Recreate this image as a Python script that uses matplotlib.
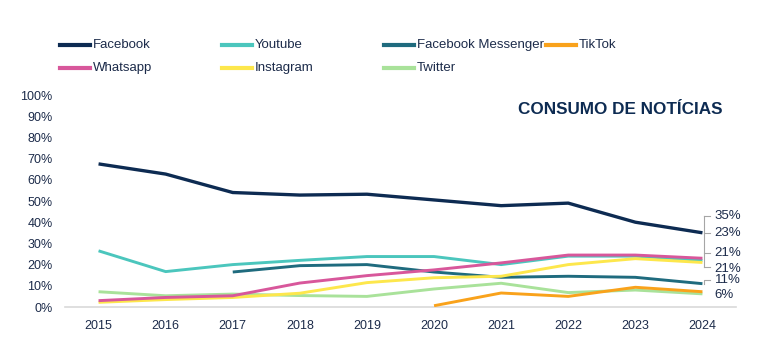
import matplotlib.pyplot as plt
from matplotlib.lines import Line2D

plt.rcParams['font.family'] = ['Liberation Sans', 'DejaVu Sans']

# data (share of news consumption, %)
years = [2015, 2016, 2017, 2018, 2019, 2020, 2021, 2022, 2023, 2024]
facebook = [67.5, 62.7, 54, 52.8, 53.2, 50.5, 47.8, 49, 40, 35]
youtube = [26.5, 16.7, 20, 22, 23.8, 23.8, 20, 24, 24, 22]
messenger = [None, None, 16.5, 19.5, 20, 16.5, 14, 14.5, 14, 11]
whatsapp = [3, 4.5, 5.3, 11.3, 14.8, 17.5, 20.8, 24.5, 24.5, 23]
instagram = [2.2, 3.5, 4.5, 6.5, 11.5, 13.8, 14.5, 20, 22.8, 21]
twitter = [7.2, 5.3, 6.1, 5.4, 5, 8.5, 11.2, 6.8, 8, 6.2]
tiktok = [None, None, None, None, None, 0.6, 6.6, 5, 9.3, 7.2]
end_labels = ['35%', '23%', '21%', '21%', '11%', '6%']

navy = '#0d2b52'
series = [
    ('Facebook', facebook, navy),
    ('Youtube', youtube, '#4bc6bd'),
    ('Facebook Messenger', messenger, '#1f6b7e'),
    ('TikTok', tiktok, '#f9a21b'),
    ('Whatsapp', whatsapp, '#d8579b'),
    ('Instagram', instagram, '#fde74c'),
    ('Twitter', twitter, '#a9e29a'),
]
draw_order = ['Twitter', 'TikTok', 'Facebook Messenger', 'Youtube', 'Instagram', 'Whatsapp', 'Facebook']

fig = plt.figure(figsize=(7.76, 3.52), dpi=100)
ax = fig.add_axes([65 / 776, 1 - 307 / 352, 671 / 776, 212 / 352])

for name in draw_order:
    label, vals, col = [s for s in series if s[0] == name][0]
    xs = [y for y, v in zip(years, vals) if v is not None]
    ys = [v for v in vals if v is not None]
    ax.plot(xs, ys, color=col, lw=2.4 if name == 'Facebook' else 2.1,
            solid_capstyle='butt', zorder=3)

ax.set_xlim(2014.5, 2024.5)
ax.set_ylim(0, 100)
ax.set_xticks(years)
ax.set_yticks(range(0, 101, 10))
ax.set_yticklabels([f'{v}%' for v in range(0, 101, 10)])
ax.tick_params(axis='both', length=0, labelsize=9, labelcolor='#1c2b4a')
ax.tick_params(axis='y', pad=9)
ax.tick_params(axis='x', pad=9.5)
for s in ['top', 'right', 'left']:
    ax.spines[s].set_visible(False)
ax.spines['bottom'].set_color('#d9d9d9')
ax.spines['bottom'].set_linewidth(1.2)

# end value labels with bracket leaders
lab_x = 2024.18
lab_y = [43, 35, 25.6, 18, 12.6, 5.8]
for txt, yv in zip(end_labels, lab_y):
    ax.text(lab_x, yv, txt, fontsize=9.5, color='#1c2b4a', va='center', ha='left',
            clip_on=False)
bx = 2024.03
gray = '#a6a6a6'
ax.plot([bx, bx], [43, 18.8], color=gray, lw=0.8, clip_on=False)
for yv in [43, 35, 25.6, 18.8]:
    ax.plot([bx, bx + 0.08], [yv, yv], color=gray, lw=0.8, clip_on=False)
ax.plot([bx, bx, bx + 0.08], [11, 12.6, 12.6], color=gray, lw=0.8, clip_on=False)

ax.text(0.98, 0.93, 'CONSUMO DE NOTÍCIAS', transform=ax.transAxes, ha='right', va='center',
        fontsize=12.3, fontweight='bold', color=navy)

# legend laid out by hand: 4 columns, 2 rows
col_x = [60, 222, 384, 546]
row_y = [45, 68]
slots = [(0, 0), (1, 0), (2, 0), (3, 0), (0, 1), (1, 1), (2, 1)]
for (label, vals, col), (c, r) in zip(series, slots):
    x0 = col_x[c] / 776
    y0 = 1 - row_y[r] / 352
    fig.add_artist(Line2D([x0, x0 + 30 / 776], [y0, y0], color=col, lw=3,
                          transform=fig.transFigure))
    fig.text(x0 + 33 / 776, y0, label, fontsize=9.5, color='#1c2b4a', va='center', ha='left')

fig.savefig('out.png', dpi=100, facecolor='white')
